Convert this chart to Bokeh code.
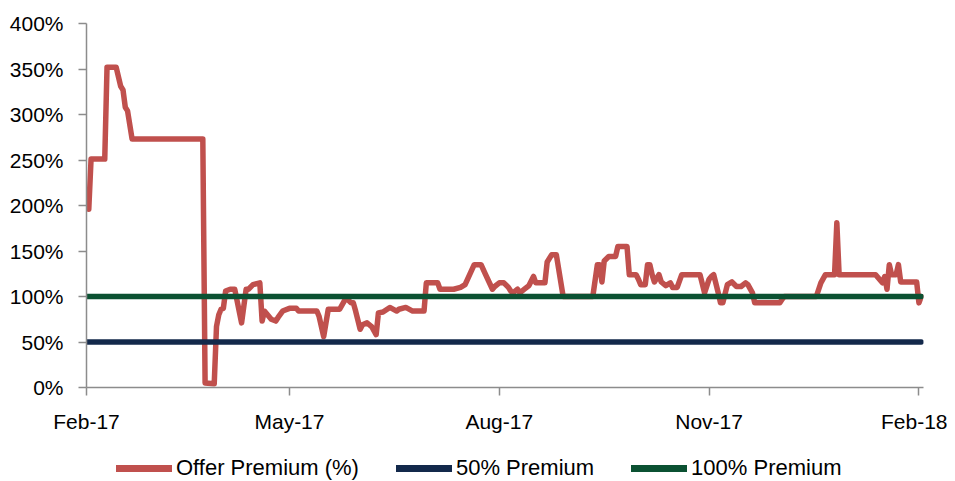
import datetime as dt
import pandas as pd
from bokeh.plotting import figure
from bokeh.layouts import column
from bokeh.models import (Range1d, FixedTicker, CustomJSTickFormatter, Legend, LegendItem)
from bokeh.embed import file_html
from bokeh.resources import INLINE

# ---- data ----
dates = [
    "2017-02-02", "2017-02-03", "2017-02-09", "2017-02-10", "2017-02-14", "2017-02-16",
    "2017-02-17", "2017-02-18", "2017-02-19", "2017-02-21", "2017-03-24", "2017-03-25",
    "2017-03-29", "2017-03-30", "2017-03-31", "2017-04-01", "2017-04-02", "2017-04-03",
    "2017-04-05", "2017-04-07", "2017-04-10", "2017-04-12", "2017-04-13", "2017-04-15",
    "2017-04-18", "2017-04-19", "2017-04-20", "2017-04-23", "2017-04-25", "2017-04-26",
    "2017-04-28", "2017-05-01", "2017-05-04", "2017-05-05", "2017-05-13", "2017-05-14",
    "2017-05-16", "2017-05-18", "2017-05-23", "2017-05-25", "2017-05-26", "2017-05-28",
    "2017-05-29", "2017-05-30", "2017-06-01", "2017-06-02", "2017-06-04", "2017-06-06",
    "2017-06-08", "2017-06-09", "2017-06-11", "2017-06-14", "2017-06-17", "2017-06-18",
    "2017-06-21", "2017-06-24", "2017-06-29", "2017-06-30", "2017-07-05", "2017-07-06",
    "2017-07-12", "2017-07-15", "2017-07-17", "2017-07-19", "2017-07-21", "2017-07-24",
    "2017-07-26", "2017-07-29", "2017-07-30", "2017-08-01", "2017-08-03", "2017-08-05",
    "2017-08-06", "2017-08-07", "2017-08-09", "2017-08-10", "2017-08-12", "2017-08-14",
    "2017-08-16", "2017-08-17", "2017-08-21", "2017-08-22", "2017-08-24", "2017-08-26",
    "2017-08-29", "2017-09-11", "2017-09-13", "2017-09-14", "2017-09-15", "2017-09-16",
    "2017-09-18", "2017-09-21", "2017-09-22", "2017-09-26", "2017-09-27", "2017-09-30",
    "2017-10-01", "2017-10-02", "2017-10-04", "2017-10-05", "2017-10-06", "2017-10-07",
    "2017-10-08", "2017-10-10", "2017-10-11", "2017-10-13", "2017-10-15", "2017-10-16",
    "2017-10-18", "2017-10-20", "2017-10-28", "2017-10-30", "2017-11-01", "2017-11-02",
    "2017-11-03", "2017-11-05", "2017-11-06", "2017-11-07", "2017-11-09", "2017-11-11",
    "2017-11-13", "2017-11-15", "2017-11-17", "2017-11-18", "2017-11-20", "2017-11-21",
    "2017-12-02", "2017-12-03", "2017-12-04", "2017-12-18", "2017-12-20", "2017-12-22",
    "2017-12-26", "2017-12-27", "2017-12-28", "2018-01-13", "2018-01-16", "2018-01-17",
    "2018-01-18", "2018-01-19", "2018-01-20", "2018-01-22", "2018-01-23", "2018-01-24",
    "2018-01-31", "2018-02-01", "2018-02-02",
]
offer_premium = [
    196, 251, 251, 352, 352, 331,
    327, 308, 304, 273, 273, 5,
    4, 67, 80, 86, 87, 106,
    108, 108, 71, 108, 108, 113,
    115, 73, 84, 75, 73, 77,
    84, 87, 87, 84, 84, 78,
    56, 86, 86, 95, 98, 93,
    93, 84, 64, 69, 71, 67,
    58, 82, 83, 88, 84, 86,
    88, 84, 84, 115, 115, 108,
    108, 110, 113, 124, 135, 135,
    124, 108, 111, 115, 115, 110,
    106, 104, 108, 104, 108, 112,
    122, 115, 115, 138, 146, 146,
    100, 100, 135, 135, 116, 139,
    144, 144, 155, 155, 124, 124,
    119, 113, 113, 135, 135, 124,
    116, 124, 116, 112, 115, 110,
    110, 124, 124, 104, 119, 122,
    124, 104, 93, 93, 113, 116,
    111, 111, 115, 113, 104, 93,
    93, 97, 100, 100, 115, 124,
    124, 181, 124, 124, 115, 122,
    108, 135, 124, 124, 135, 116,
    116, 93, 100,
]
ref_dates = ["2017-02-01", "2018-02-02"]
premium_50 = [50, 50]
premium_100 = [100, 100]

series_names = ["Offer Premium (%)", "50% Premium", "100% Premium"]
y_ticks = [0, 50, 100, 150, 200, 250, 300, 350, 400]
y_tick_labels = ["0%", "50%", "100%", "150%", "200%", "250%", "300%", "350%", "400%"]
x_tick_dates = ["2017-02-01", "2017-05-01", "2017-08-01", "2017-11-01", "2018-02-01"]
x_tick_labels = ["Feb-17", "May-17", "Aug-17", "Nov-17", "Feb-18"]

# ---- styling ----
RED = "#C0504D"
NAVY = "#13294B"
GREEN = "#0B5132"
AXIS = "#8C8C8C"
FONT = "Liberation Sans"
FSIZE = "21px"
W = 947

x = pd.to_datetime(dates)
xr = pd.to_datetime(ref_dates)
x_tick_ms = [int(pd.Timestamp(d).value // 10**6) for d in x_tick_dates]
X_START, X_END = dt.datetime(2017, 2, 1), dt.datetime(2018, 2, 3)

# ---- main chart ----
p = figure(
    x_axis_type="datetime",
    x_range=Range1d(X_START, X_END),
    y_range=Range1d(0, 400),
    width=W, height=440,
    min_border_left=86, min_border_right=24, min_border_top=23, min_border_bottom=53,
    output_backend="svg", toolbar_location=None,
    background_fill_color="white", border_fill_color="white",
)
p.outline_line_color = None
p.xgrid.visible = False
p.ygrid.visible = False

p.line(x, offer_premium, line_color=RED, line_width=5.5, line_join="round", line_cap="round")
p.line(xr, premium_50, line_color=NAVY, line_width=5.5, line_cap="round")
p.line(xr, premium_100, line_color=GREEN, line_width=5.5, line_cap="round")

for ax in (p.xaxis[0], p.yaxis[0]):
    ax.axis_line_color = AXIS
    ax.axis_line_width = 1.5
    ax.major_tick_line_color = AXIS
    ax.major_tick_line_width = 1.5
    ax.major_tick_in = 0
    ax.major_tick_out = 8
    ax.minor_tick_line_color = None
    ax.major_label_text_font = FONT
    ax.major_label_text_font_size = FSIZE
    ax.major_label_text_color = "#000000"

JS = "const i = tvals.indexOf(tick); return i >= 0 ? tlabels[i] : '';"

p.yaxis.ticker = FixedTicker(ticks=y_ticks)
p.yaxis.formatter = CustomJSTickFormatter(
    args=dict(tvals=y_ticks, tlabels=y_tick_labels), code=JS)
p.yaxis.major_label_standoff = 15

p.xaxis.ticker = FixedTicker(ticks=x_tick_ms)
p.xaxis.formatter = CustomJSTickFormatter(
    args=dict(tvals=x_tick_ms, tlabels=x_tick_labels), code=JS)
p.xaxis.major_label_standoff = 14

# ---- legend strip (legend-only figure; its lines lie outside its y range) ----
lg = figure(
    x_axis_type="datetime",
    x_range=Range1d(X_START, X_END), y_range=Range1d(1000, 1001),
    width=W, height=41, min_border=0,
    output_backend="svg", toolbar_location=None,
    background_fill_color="white", border_fill_color="white",
)
lg.outline_line_color = None
lg.axis.visible = False
lg.grid.visible = False
l1 = lg.line(x, offer_premium, line_color=RED, line_width=7, line_cap="round")
l2 = lg.line(xr, premium_50, line_color=NAVY, line_width=7, line_cap="round")
l3 = lg.line(xr, premium_100, line_color=GREEN, line_width=7, line_cap="round")

legend = Legend(
    items=[LegendItem(label=series_names[0], renderers=[l1]),
           LegendItem(label=series_names[1], renderers=[l2]),
           LegendItem(label=series_names[2], renderers=[l3])],
    orientation="horizontal", location=(30, 0),
    glyph_width=56, glyph_height=20, label_standoff=4, spacing=37,
    padding=0, margin=0, border_line_color=None, background_fill_alpha=0,
    label_text_font=FONT, label_text_font_size="22px", label_text_color="#000000",
)
lg.add_layout(legend, "center")

layout = column(p, lg, spacing=0)
open("out.html", "w").write(file_html(layout, INLINE))
